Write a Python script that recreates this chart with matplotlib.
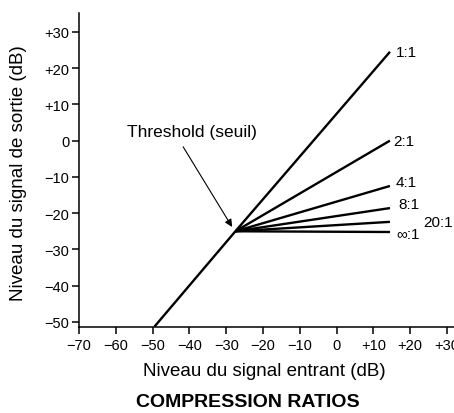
import matplotlib
matplotlib.use('Agg')
import matplotlib.pyplot as plt

plt.rcParams['font.family'] = ['Liberation Sans', 'DejaVu Sans']

# transfer curve (input dB -> output dB)
below_in = [-49.5, -27.5]
below_out = [-51.3, -25]
threshold = (-27.5, -25)
end_in = 14.5
ratio_labels = ['1:1', '2:1', '4:1', '8:1', '20:1', '\u221e:1']
end_out = [24.5, 0, -12.5, -18.6, -22.4, -25.2]
# label nudges in pixels from the line ends
label_offsets = [(6, 0), (3, 0), (6, 4), (8, 4), (33, 0), (6, -2)]

x_ticks = [-70, -60, -50, -40, -30, -20, -10, 0, 10, 20, 30]
y_ticks = [-50, -40, -30, -20, -10, 0, 10, 20, 30]


def db_label(v):
    if v > 0:
        return '+%d' % v
    if v < 0:
        return '\u2212%d' % -v
    return '0'


fig = plt.figure(figsize=(4.54, 4.14), dpi=100)
ax = fig.add_axes([79 / 454, 86 / 414, 375 / 454, 314 / 414])

ax.plot(below_in, below_out, color='black', lw=1.7, solid_capstyle='butt')
for out, lab, off in zip(end_out, ratio_labels, label_offsets):
    ax.plot([threshold[0], end_in], [threshold[1], out], color='black', lw=1.7,
            solid_capstyle='butt')
    ax.annotate(lab, xy=(end_in, out), xytext=off, textcoords='offset pixels',
                ha='left', va='center', fontsize=11)

ax.annotate('', xy=(-28.4, -23.8), xytext=(-41.7, -1.7),
            arrowprops=dict(arrowstyle='-|>', color='black', lw=0.8,
                            mutation_scale=11, shrinkA=0, shrinkB=0))
ax.text(-39.3, 2.4, 'Threshold (seuil)', ha='center', va='center', fontsize=12.5)

ax.set_xlim(-70, 31.9)
ax.set_ylim(-51.4, 35.2)
ax.set_xticks(x_ticks)
ax.set_xticklabels([db_label(v) for v in x_ticks])
ax.set_yticks(y_ticks)
ax.set_yticklabels([db_label(v) for v in y_ticks])
ax.tick_params(direction='out', length=5, width=1.1, labelsize=10.5)
ax.tick_params(axis='x', pad=3)
ax.tick_params(axis='y', pad=2)
for s in ['top', 'right']:
    ax.spines[s].set_visible(False)
for s in ['left', 'bottom']:
    ax.spines[s].set_linewidth(1.1)

ax.set_xlabel('Niveau du signal entrant (dB)', fontsize=13.5)
ax.set_ylabel('Niveau du signal de sortie (dB)', fontsize=13.5)
ax.xaxis.set_label_coords(0.493, -0.111)
ax.yaxis.set_label_coords(-0.139, 0.494)

fig.text(248 / 454, 1 - 403 / 414, 'COMPRESSION RATIOS', ha='center', va='center',
         fontsize=14, fontweight='bold')

fig.savefig('out.png', dpi=100)
